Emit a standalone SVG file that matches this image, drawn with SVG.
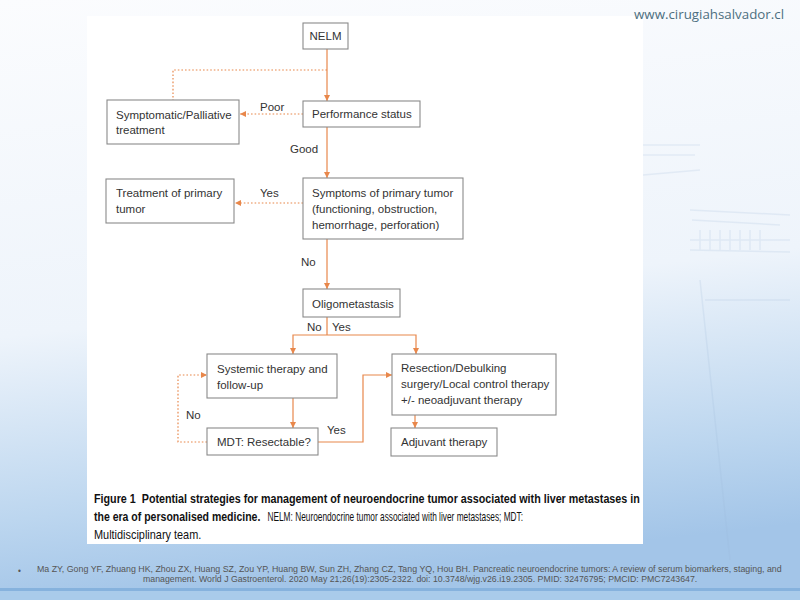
<svg xmlns="http://www.w3.org/2000/svg" width="800" height="600" viewBox="0 0 800 600">
<defs>
<linearGradient id="bg" x1="0" y1="0" x2="0.15" y2="1">
<stop offset="0" stop-color="#fbfcfe"/>
<stop offset="0.55" stop-color="#eef4fb"/>
<stop offset="0.85" stop-color="#bcd6ef"/>
<stop offset="1" stop-color="#a3c5e8"/>
</linearGradient>
<marker id="ah" viewBox="0 0 8 8" refX="8" refY="4" markerWidth="6" markerHeight="6" markerUnits="userSpaceOnUse" orient="auto">
<path d="M0,0 L8,4 L0,8 z" fill="#e8874b"/>
</marker>
<style>
.box{fill:#fff;stroke:#8a8a8a;stroke-width:1.1}
.t{font-family:"Liberation Sans",Arial,sans-serif;font-size:11.5px;fill:#333}
.c{fill:none;stroke:#e8874b;stroke-width:1.2}
.d{fill:none;stroke:#e8874b;stroke-width:1.2;stroke-dasharray:1.6,2}
.cap{font-family:"Liberation Sans",Arial,sans-serif;font-size:13px;fill:#111}
.cit{font-family:"Liberation Sans",Arial,sans-serif;font-size:9.5px;fill:#555}
</style>
</defs>
<rect width="800" height="600" fill="url(#bg)"/>
<rect x="0" y="588" width="800" height="3" fill="#86b2dd"/>
<rect x="0" y="591" width="800" height="9" fill="#a9cbea"/>
<g opacity="0.18" fill="none" stroke="#9cb8d8" stroke-width="1.5">
<path d="M643,145 L700,145 M643,155 L695,155 M643,175 L700,170"/>
<path d="M690,210 L790,215 M692,220 L780,225 M690,240 L790,240 M690,250 L790,252"/>
<path d="M700,230 V250 M710,230 V250 M720,230 V250 M730,230 V250 M740,230 V250 M750,230 V250 M760,230 V250"/>
<path d="M700,280 L730,560 M705,300 L790,300"/>
</g>
<rect x="87" y="16" width="556" height="528" fill="#ffffff"/>
<text x="634" y="19" font-family="'Open Sans','Liberation Sans',sans-serif" font-size="13" fill="#4d6f80" textLength="150" lengthAdjust="spacingAndGlyphs">www.cirugiahsalvador.cl</text>

<g id="connectors">
<path class="c" d="M327,49 V101" marker-end="url(#ah)"/>
<path class="d" d="M327,70 H173 V100"/>
<path class="d" d="M303,114 H240" marker-end="url(#ah)"/>
<path class="c" d="M327,127 V178" marker-end="url(#ah)"/>
<path class="d" d="M303,203 H235" marker-end="url(#ah)"/>
<path class="c" d="M327,239 V289" marker-end="url(#ah)"/>
<path class="c" d="M327,317 V335"/>
<path class="c" d="M327,335 H293 V354" marker-end="url(#ah)"/>
<path class="c" d="M327,335 H416 V354" marker-end="url(#ah)"/>
<path class="c" d="M293,398 V428" marker-end="url(#ah)"/>
<path class="d" d="M207,442 H178 V375 H207" marker-end="url(#ah)"/>
<path class="c" d="M318,442 H363 V375 H392" marker-end="url(#ah)"/>
<path class="c" d="M415,415 V428" marker-end="url(#ah)"/>
</g>

<g id="labels">
<text x="260" y="111" class="t">Poor</text>
<text x="290" y="153" class="t">Good</text>
<text x="260" y="197" class="t">Yes</text>
<text x="301" y="266" class="t">No</text>
<text x="307" y="331" class="t">No</text>
<text x="332" y="331" class="t">Yes</text>
<text x="327" y="434" class="t">Yes</text>
<text x="186" y="419" class="t">No</text>
</g>

<g id="n-nelm"><rect class="box" x="303" y="23" width="45" height="26"/><text class="t" x="325.5" y="40" text-anchor="middle">NELM</text></g>
<g id="n-perf"><rect class="box" x="303" y="101" width="117" height="26"/><text class="t" x="312" y="118">Performance status</text></g>
<g id="n-palliative"><rect class="box" x="107" y="100" width="132" height="44"/><text class="t" x="116" y="119">Symptomatic/Palliative</text><text class="t" x="116" y="134">treatment</text></g>
<g id="n-symptoms"><rect class="box" x="303" y="178" width="160" height="61"/><text class="t" x="312" y="197">Symptoms of primary tumor</text><text class="t" x="312" y="213">(functioning, obstruction,</text><text class="t" x="312" y="229">hemorrhage, perforation)</text></g>
<g id="n-treatprimary"><rect class="box" x="106" y="179" width="128" height="44"/><text class="t" x="116" y="197">Treatment of primary</text><text class="t" x="116" y="213">tumor</text></g>
<g id="n-oligo"><rect class="box" x="303" y="289" width="97" height="28"/><text class="t" x="312" y="308">Oligometastasis</text></g>
<g id="n-systemic"><rect class="box" x="207" y="354" width="130" height="44"/><text class="t" x="217" y="373">Systemic therapy and</text><text class="t" x="217" y="389">follow-up</text></g>
<g id="n-resection"><rect class="box" x="392" y="354" width="164" height="61"/><text class="t" x="401" y="372">Resection/Debulking</text><text class="t" x="401" y="388">surgery/Local control therapy</text><text class="t" x="401" y="404">+/- neoadjuvant therapy</text></g>
<g id="n-mdt"><rect class="box" x="207" y="428" width="111" height="27"/><text class="t" x="217" y="446">MDT: Resectable?</text></g>
<g id="n-adjuvant"><rect class="box" x="391" y="428" width="106" height="28"/><text class="t" x="401" y="446">Adjuvant therapy</text></g>

<g id="caption" transform="scale(0.72,1)">
<text class="cap" x="130.6" y="503" font-weight="bold" textLength="758" lengthAdjust="spacingAndGlyphs" xml:space="preserve">Figure 1  Potential strategies for management of neuroendocrine tumor associated with liver metastases in</text>
<text class="cap" x="130.6" y="521" font-weight="bold" textLength="231" lengthAdjust="spacingAndGlyphs">the era of personalised medicine.</text>
<text class="cap" x="371.5" y="521" textLength="355" lengthAdjust="spacingAndGlyphs">NELM: Neuroendocrine tumor associated with liver metastases; MDT:</text>
<text class="cap" x="130.6" y="539" textLength="149" lengthAdjust="spacingAndGlyphs">Multidisciplinary team.</text>
</g>

<g id="citation" transform="scale(0.87,1)">
<text class="cit" x="20.7" y="574">•</text>
<text class="cit" x="42.5" y="572" textLength="856" lengthAdjust="spacingAndGlyphs">Ma ZY, Gong YF, Zhuang HK, Zhou ZX, Huang SZ, Zou YP, Huang BW, Sun ZH, Zhang CZ, Tang YQ, Hou BH. Pancreatic neuroendocrine tumors: A review of serum biomarkers, staging, and</text>
<text class="cit" x="164.4" y="582" textLength="637" lengthAdjust="spacingAndGlyphs">management. World J Gastroenterol. 2020 May 21;26(19):2305-2322. doi: 10.3748/wjg.v26.i19.2305. PMID: 32476795; PMCID: PMC7243647.</text>
</g>
</svg>
